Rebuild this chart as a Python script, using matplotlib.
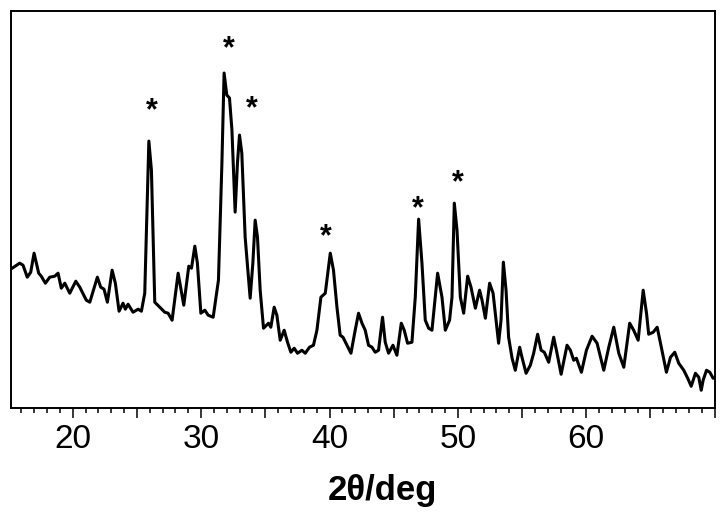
import matplotlib.pyplot as plt
from matplotlib.ticker import FixedLocator, MultipleLocator, FuncFormatter

plt.rcParams['font.family'] = ['Liberation Sans', 'DejaVu Sans']

# XRD pattern (2theta in deg, intensity in a.u.)
two_theta = [
    15.17, 15.87, 16.13, 16.46, 16.73, 16.99, 17.35, 17.55, 17.87, 18.21,
    18.60, 18.86, 19.11, 19.38, 19.77, 20.24, 20.55, 21.06, 21.33, 21.92,
    22.18, 22.44, 22.70, 23.07, 23.32, 23.61, 23.92, 24.10, 24.31, 24.70,
    25.09, 25.35, 25.61, 25.93, 26.13, 26.39, 26.78, 27.17, 27.43, 27.74,
    28.21, 28.65, 29.04, 29.25, 29.51, 29.71, 29.98, 30.29, 30.55, 30.94,
    31.35, 31.62, 31.79, 32.00, 32.21, 32.40, 32.65, 32.83, 32.99, 33.17,
    33.43, 33.82, 34.03, 34.21, 34.39, 34.60, 34.86, 35.25, 35.43, 35.69,
    35.90, 36.16, 36.47, 36.73, 36.99, 37.25, 37.51, 37.85, 38.11, 38.44,
    38.75, 39.02, 39.33, 39.67, 40.06, 40.31, 40.58, 40.83, 41.05, 41.36,
    41.67, 42.00, 42.26, 42.53, 42.78, 43.04, 43.31, 43.56, 43.82, 44.13,
    44.34, 44.60, 44.94, 45.25, 45.59, 45.82, 46.08, 46.42, 46.68, 46.94,
    47.20, 47.46, 47.72, 47.98, 48.42, 48.76, 49.02, 49.35, 49.54, 49.72,
    49.93, 50.19, 50.45, 50.76, 51.02, 51.36, 51.69, 51.88, 52.14, 52.47,
    52.74, 53.17, 53.36, 53.54, 53.75, 53.95, 54.22, 54.47, 54.81, 54.99,
    55.31, 55.64, 55.90, 56.21, 56.48, 56.73, 57.07, 57.46, 57.72, 58.04,
    58.50, 58.76, 59.02, 59.23, 59.62, 60.01, 60.45, 60.84, 61.36, 61.75,
    62.14, 62.53, 62.92, 63.38, 63.69, 64.04, 64.43, 64.69, 64.86, 65.21,
    65.52, 65.78, 66.24, 66.56, 66.89, 67.20, 67.59, 67.90, 68.17, 68.50,
    68.76, 68.95, 69.10, 69.36, 69.62, 69.88, 70.20,
]
intensity = [
    139, 145, 143, 131, 136, 155, 135, 132, 125, 131,
    132, 135, 120, 125, 115, 127, 121, 108, 106, 131,
    121, 119, 106, 138, 125, 97, 105, 99, 104, 96,
    99, 97, 115, 267, 238, 106, 101, 96, 95, 88,
    135, 103, 142, 140, 162, 145, 95, 98, 93, 91,
    128, 245, 335, 313, 310, 278, 196, 245, 273, 255,
    171, 110, 145, 188, 171, 118, 80, 85, 81, 101,
    93, 68, 78, 66, 56, 60, 55, 58, 55, 61,
    63, 78, 111, 115, 155, 138, 101, 73, 71, 63,
    55, 78, 95, 85, 78, 63, 61, 56, 58, 91,
    66, 55, 63, 53, 85, 78, 65, 66, 111, 189,
    145, 88, 80, 78, 135, 111, 78, 88, 111, 205,
    178, 111, 95, 132, 121, 100, 118, 108, 90, 125,
    115, 65, 88, 146, 118, 71, 50, 38, 61, 51,
    35, 43, 55, 74, 58, 56, 46, 71, 55, 34,
    63, 58, 48, 50, 36, 58, 72, 65, 38, 61,
    81, 55, 41, 85, 78, 68, 118, 95, 74, 76,
    81, 65, 36, 51, 56, 45, 38, 30, 22, 35,
    31, 18, 28, 38, 36, 30, 31,
]

# peaks marked with an asterisk
star_x = [26.18, 32.18, 33.98, 39.74, 46.84, 50.0]
star_y = [300, 362, 302, 174, 202, 228]

tick_labels = [20, 30, 40, 50, 60]

fig = plt.figure(figsize=(7.28, 5.18), dpi=100)
ax = fig.add_axes([0.0147, 0.2118, 0.9679, 0.767])

ax.plot(two_theta, intensity, color='black', lw=2.2, solid_joinstyle='round')

for sx, sy in zip(star_x, star_y):
    ax.text(sx, sy, '*', fontsize=22, fontweight='bold', ha='center',
            va='center_baseline', color='black')

ax.set_xlim(15.17, 70.05)
ax.set_ylim(0, 397)
ax.set_yticks([])

ax.xaxis.set_major_locator(FixedLocator([20, 25, 30, 35, 40, 45, 50, 55, 60, 65, 70]))
ax.xaxis.set_minor_locator(MultipleLocator(1))
ax.xaxis.set_major_formatter(FuncFormatter(
    lambda v, p: str(int(round(v))) if int(round(v)) in tick_labels else ''))
ax.tick_params(axis='x', which='major', direction='out', length=7, width=1.1,
               labelsize=24, pad=4)
ax.tick_params(axis='x', which='minor', direction='out', length=3.6, width=1.1)

for s in ax.spines.values():
    s.set_linewidth(1.4)

ax.set_xlabel('2θ/deg', fontsize=25, fontweight='bold')
ax.xaxis.set_label_coords(0.527, -0.165)

fig.savefig('out.png', dpi=100)
